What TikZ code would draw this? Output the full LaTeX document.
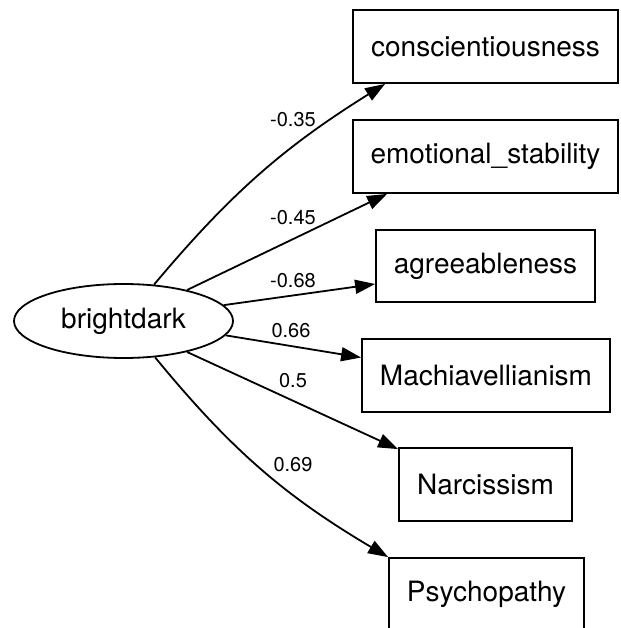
\documentclass[tikz,border=0pt]{standalone}
\usepackage{fontspec}
\setmainfont{TeX Gyre Heros}
\usetikzlibrary{shapes.geometric}
\usetikzlibrary{arrows.meta}
\tikzset{
    latent/.style = {ellipse, draw=black, line width=1.8pt, inner sep=0pt, minimum width=219pt, minimum height=74pt, font=\fontsize{28}{32}\selectfont},
    obsbox/.style = {rectangle, draw=black, line width=1.8pt, inner sep=0pt, minimum height=73pt, font=\fontsize{28}{32}\selectfont},
    wlabel/.style = {inner sep=0pt, font=\fontsize{20}{24}\selectfont},
    edgel/.style = {-{Triangle[length=20pt,width=14pt]}, line width=1.8pt, black}
}

\begin{document}
\begin{tikzpicture}[x=1pt,y=-1pt]
\useasboundingbox (0,0) rectangle (620,628);
\node[latent] at (123.5, 321) (bd) {brightdark};
\node[obsbox, minimum width=265pt] at (485.5, 46.5) (consc) {conscientiousness};
\node[obsbox, minimum width=265pt] at (485.5, 156.5) (emo) {emotional\_stability};
\node[obsbox, minimum width=219pt, minimum height=72pt] at (485.5, 266) (agree) {agreeableness};
\node[obsbox, minimum width=248pt] at (486, 375.5) (mach) {Machiavellianism};
\node[obsbox, minimum width=173pt] at (485.5, 484.5) (narc) {Narcissism};
\node[obsbox, minimum width=195pt] at (486.5, 594.5) (psych) {Psychopathy};
%
\draw[edgel] (bd.50) to[bend left=9] ([xshift=33pt]consc.south west);
\draw[edgel] (bd.26) -- ([xshift=35pt]emo.south west);
\draw[edgel] (bd.9) -- ([yshift=-18pt]agree.west);
\draw[edgel] (bd.-8) -- ([yshift=18pt]mach.west);
\draw[edgel] (bd.-26) -- ([yshift=-2pt]narc.north west);
\draw[edgel] (bd.-49) to[bend right=10] (psych.north west);
% loadings
\node[wlabel] at (293, 120) (w1) {-0.35};
\node[wlabel] at (293, 218) (w2) {-0.45};
\node[wlabel] at (293, 281) (w3) {-0.68};
\node[wlabel] at (291, 331) (w4) {0.66};
\node[wlabel] at (293, 381) (w5) {0.5};
\node[wlabel] at (293, 465) (w6) {0.69};
\end{tikzpicture}
\end{document}
